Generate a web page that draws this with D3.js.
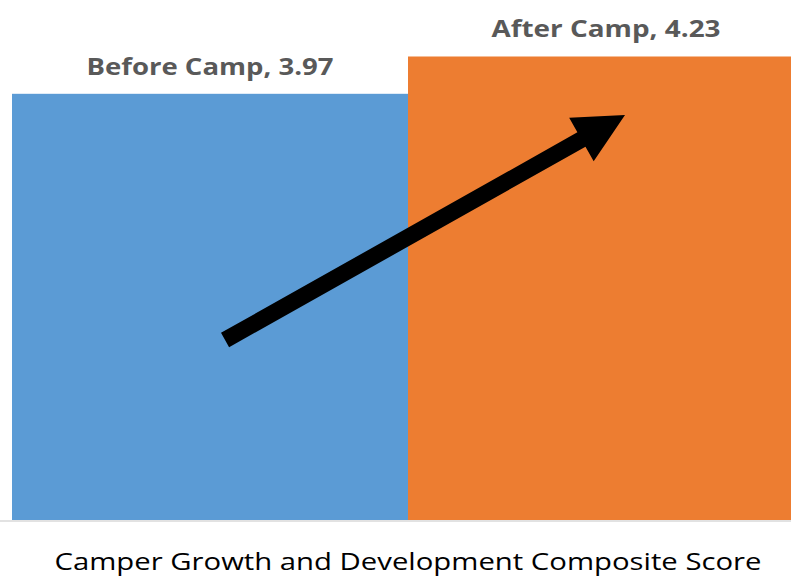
<!DOCTYPE html>
<html>
<head>
<meta charset="utf-8">
<script src="https://cdn.jsdelivr.net/npm/d3@7"></script>
<style>
  html, body { margin: 0; padding: 0; background: #fff; overflow: hidden; }
  svg { display: block; }
</style>
</head>
<body>
<svg id="chart" width="791" height="577"></svg>
<script>
// Composite score before and after camp (1–5 scale)
const categories = ["Before Camp", "After Camp"];
const scores = [3.97, 4.23];
const barColors = ["#5B9BD5", "#ED7D31"];
const axisTitle = "Camper Growth and Development Composite Score";

const svg = d3.select("#chart");

const x = d3.scaleBand()
  .domain(categories)
  .range([12, 804])
  .paddingInner(0)
  .paddingOuter(0);

const y = d3.scaleLinear()
  .domain([1, 5])
  .range([520, -54]);

// Bars
svg.selectAll("rect.bar")
  .data(categories)
  .join("rect")
  .attr("class", "bar")
  .attr("x", d => x(d))
  .attr("width", x.bandwidth())
  .attr("y", (d, i) => y(scores[i]))
  .attr("height", (d, i) => y(1) - y(scores[i]))
  .attr("fill", (d, i) => barColors[i]);

// Category axis line
svg.append("line")
  .attr("x1", 0).attr("x2", 791)
  .attr("y1", y(1) + 1).attr("y2", y(1) + 1)
  .attr("stroke", "#d9d9d9")
  .attr("stroke-width", 1.5);

// Data labels
const labelWidths = [247, 229];
svg.selectAll("text.label")
  .data(categories)
  .join("text")
  .attr("class", "label")
  .attr("x", d => x(d) + x.bandwidth() / 2)
  .attr("y", (d, i) => y(scores[i]) - 19)
  .attr("text-anchor", "middle")
  .attr("font-family", "'Open Sans', 'Liberation Sans', sans-serif")
  .attr("font-weight", "bold")
  .attr("font-size", 24)
  .attr("fill", "#595959")
  .attr("textLength", (d, i) => labelWidths[i])
  .attr("lengthAdjust", "spacingAndGlyphs")
  .text((d, i) => `${d}, ${scores[i].toFixed(2)}`);

// Axis title
svg.append("text")
  .attr("x", 408)
  .attr("y", 570)
  .attr("text-anchor", "middle")
  .attr("font-family", "'Open Sans', 'Liberation Sans', sans-serif")
  .attr("font-weight", 500)
  .attr("font-size", 24)
  .attr("fill", "#000")
  .attr("textLength", 707)
  .attr("lengthAdjust", "spacingAndGlyphs")
  .text(axisTitle);

// Growth arrow from the "before" bar up into the "after" bar
const tail = [x("Before Camp") + x.bandwidth() * 0.538, y(2.254)];
const tip = [x("After Camp") + x.bandwidth() * 0.548, y(3.822)];
const shaftW = 16.5, headLen = 50, headW = 50;
const dx = tip[0] - tail[0], dy = tip[1] - tail[1];
const len = Math.hypot(dx, dy);
const ux = dx / len, uy = dy / len;
const nx = -uy, ny = ux;
const base = [tip[0] - ux * headLen, tip[1] - uy * headLen];
const pts = [
  [tail[0] + nx * shaftW / 2, tail[1] + ny * shaftW / 2],
  [base[0] + nx * shaftW / 2, base[1] + ny * shaftW / 2],
  [base[0] + nx * headW / 2, base[1] + ny * headW / 2],
  tip,
  [base[0] - nx * headW / 2, base[1] - ny * headW / 2],
  [base[0] - nx * shaftW / 2, base[1] - ny * shaftW / 2],
  [tail[0] - nx * shaftW / 2, tail[1] - ny * shaftW / 2]
];
svg.append("path")
  .attr("d", d3.line()(pts) + "Z")
  .attr("fill", "#000");
</script>
</body>
</html>
